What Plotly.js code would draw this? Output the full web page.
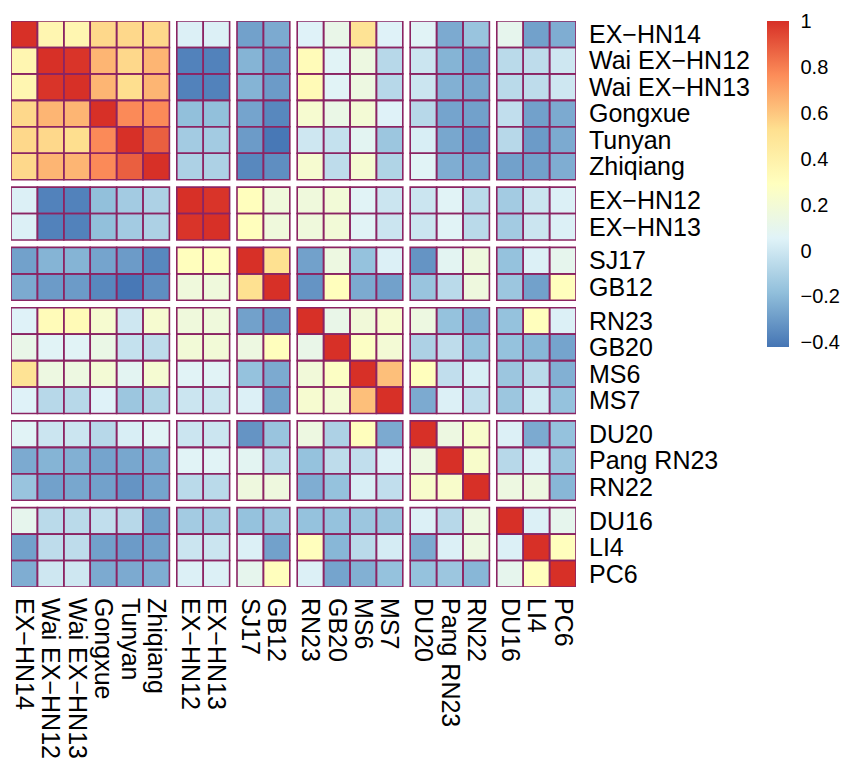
<!DOCTYPE html>
<html><head><meta charset="utf-8">
<script src="https://cdn.plot.ly/plotly-3.0.1.min.js"></script>
<style>body{margin:0;background:#fff}#chart{width:850px;height:773px}</style>
</head><body><div id="chart"></div>
<script>
const labels = ["EX−HN14","Wai EX−HN12","Wai EX−HN13","Gongxue","Tunyan","Zhiqiang",
  "EX−HN12","EX−HN13","SJ17","GB12","RN23","GB20","MS6","MS7",
  "DU20","Pang RN23","RN22","DU16","LI4","PC6"];
const groupSizes = [6,2,2,4,3,3];
const corr = [
 [1,0.36,0.36,0.55,0.55,0.55, 0.04,0.04, -0.28,-0.25, 0.05,0.12,0.5,0.05, 0.06,-0.25,-0.16, 0.1,-0.28,-0.24],
 [0.36,1,0.99,0.65,0.55,0.65, -0.38,-0.38, -0.22,-0.3, 0.32,0.06,0.15,-0.07, -0.01,-0.22,-0.28, -0.06,-0.05,0.0],
 [0.36,0.99,1,0.65,0.53,0.65, -0.38,-0.38, -0.22,-0.3, 0.33,0.06,0.15,-0.07, -0.01,-0.23,-0.26, -0.06,-0.05,0.0],
 [0.55,0.65,0.65,1,0.77,0.77, -0.18,-0.18, -0.27,-0.36, 0.22,0.13,0.2,0.05, -0.07,-0.27,-0.28, -0.04,-0.28,-0.25],
 [0.55,0.55,0.53,0.77,1,0.88, -0.13,-0.13, -0.3,-0.41, 0.0,-0.03,0.08,-0.15, 0.03,-0.26,-0.32, -0.07,-0.3,-0.25],
 [0.55,0.65,0.65,0.77,0.88,1, -0.1,-0.1, -0.36,-0.34, 0.22,-0.05,0.21,-0.09, 0.06,-0.24,-0.27, -0.28,-0.28,-0.24],
 [0.04,-0.38,-0.38,-0.18,-0.13,-0.1, 1,0.99, 0.3,0.17, 0.17,0.19,0.06,-0.01, -0.01,0.06,-0.06, -0.13,-0.01,0.04],
 [0.04,-0.38,-0.38,-0.18,-0.13,-0.1, 0.99,1, 0.3,0.17, 0.17,0.19,0.06,-0.01, -0.01,0.06,-0.06, -0.13,-0.01,0.04],
 [-0.28,-0.22,-0.22,-0.27,-0.3,-0.36, 0.3,0.3, 1,0.52, -0.28,0.15,-0.17,0.04, -0.32,0.08,0.16, -0.17,0.04,0.1],
 [-0.25,-0.3,-0.3,-0.36,-0.41,-0.34, 0.17,0.17, 0.52,1, -0.32,0.3,-0.25,-0.28, -0.16,-0.06,0.16, -0.15,-0.28,0.3],
 [0.05,0.32,0.33,0.22,0.0,0.22, 0.17,0.17, -0.28,-0.32, 1,0.12,0.18,0.22, 0.15,-0.17,-0.24, -0.17,0.3,0.04],
 [0.12,0.06,0.06,0.13,-0.03,-0.05, 0.19,0.19, 0.15,0.3, 0.12,1,0.27,0.2, -0.1,-0.05,-0.17, -0.17,-0.21,-0.27],
 [0.5,0.15,0.15,0.2,0.08,0.21, 0.06,0.06, -0.17,-0.25, 0.18,0.27,1,0.62, 0.3,-0.04,0.03, -0.15,-0.06,-0.23],
 [0.05,-0.07,-0.07,0.05,-0.15,-0.09, -0.01,-0.01, 0.04,-0.28, 0.22,0.2,0.62,1, -0.25,0.04,-0.04, -0.15,0.02,-0.17],
 [0.06,-0.01,-0.01,-0.07,0.03,0.06, -0.01,-0.01, -0.32,-0.16, 0.15,-0.1,0.3,-0.25, 1,0.15,0.24, 0.04,-0.25,-0.17],
 [-0.25,-0.22,-0.23,-0.27,-0.26,-0.24, 0.06,0.06, 0.08,-0.06, -0.17,-0.05,-0.04,0.04, 0.15,1,0.24, -0.07,0.04,-0.15],
 [-0.16,-0.28,-0.26,-0.28,-0.32,-0.27, -0.06,-0.06, 0.16,0.16, -0.24,-0.17,0.03,-0.04, 0.24,0.24,1, 0.15,0.15,-0.21],
 [0.1,-0.06,-0.06,-0.04,-0.07,-0.28, -0.13,-0.13, -0.17,-0.15, -0.17,-0.17,-0.15,-0.15, 0.04,-0.07,0.15, 1,0.04,0.1],
 [-0.28,-0.05,-0.05,-0.28,-0.3,-0.28, -0.01,-0.01, 0.04,-0.28, 0.3,-0.21,-0.06,0.02, -0.25,0.04,0.15, 0.04,1,0.3],
 [-0.24,0.0,0.0,-0.25,-0.25,-0.24, 0.04,0.04, 0.1,0.3, 0.04,-0.27,-0.23,-0.17, -0.17,-0.15,-0.21, 0.1,0.3,1]
];
const cbTickVals = [-0.4,-0.2,0,0.2,0.4,0.6,0.8,1];
const cbTickText = ["−0.4","−0.2","0","0.2","0.4","0.6","0.8","1"];
const paletteColors = ["#4575B4","#91BFDB","#E0F3F8","#FFFFBF","#FEE090","#FC8D59","#D73027"];
const borderColor = "#8B2463";

const GAP = 0.28;
const slots = [];
let idx = 0;
groupSizes.forEach((n, g) => {
  if (g > 0) slots.push(-1);
  for (let i = 0; i < n; i++) slots.push(idx++);
});
const edges = [0];
slots.forEach(s => edges.push(edges[edges.length - 1] + (s < 0 ? GAP : 1)));
const centers = [];
slots.forEach((s, k) => { if (s >= 0) centers[s] = (edges[k] + edges[k + 1]) / 2; });
const z = slots.map(r => slots.map(c => (r < 0 || c < 0) ? null : corr[r][c]));
const colorscale = paletteColors.map((c, i) => [i / (paletteColors.length - 1), c]);

const shapes = [];
slots.forEach((r, kr) => {
  if (r < 0) return;
  slots.forEach((c, kc) => {
    if (c < 0) return;
    shapes.push({type: 'rect', xref: 'x', yref: 'y',
      x0: edges[kc], x1: edges[kc + 1], y0: edges[kr], y1: edges[kr + 1],
      line: {color: borderColor, width: 1.6}, fillcolor: 'rgba(0,0,0,0)', layer: 'above'});
  });
});

const trace = {
  type: 'heatmap', x: edges, y: edges, z: z,
  zmin: -0.42, zmax: 1.0, colorscale: colorscale, hoverongaps: false,
  colorbar: {
    x: 1.336, xanchor: 'left', xpad: 0, y: 1, yanchor: 'top', ypad: 0,
    thickness: 22, lenmode: 'pixels', len: 326, outlinewidth: 0,
    tickvals: cbTickVals, ticktext: cbTickText,
    ticks: 'outside', ticklen: 8, tickcolor: 'rgba(0,0,0,0)',
    tickfont: {size: 20, color: '#000', family: 'Liberation Sans, Arial, sans-serif'}
  }
};
const last = edges[edges.length - 1];
const layout = {
  width: 850, height: 773,
  margin: {l: 11, r: 273, t: 21, b: 186},
  paper_bgcolor: '#fff', plot_bgcolor: '#fff',
  font: {family: 'Liberation Sans, Arial, sans-serif', color: '#000', size: 25},
  xaxis: {range: [0, last], tickvals: centers, ticktext: labels, tickangle: 90,
    showgrid: false, zeroline: false, showline: false,
    ticks: 'outside', ticklen: 5, tickcolor: 'rgba(0,0,0,0)', tickfont: {size: 25}},
  yaxis: {range: [last, 0], tickvals: centers, ticktext: labels, side: 'right',
    showgrid: false, zeroline: false, showline: false,
    ticks: 'outside', ticklen: 7, tickcolor: 'rgba(0,0,0,0)', tickfont: {size: 25}},
  shapes: shapes
};
Plotly.newPlot('chart', [trace], layout, {displayModeBar: false, staticPlot: true});
</script>
</body></html>
